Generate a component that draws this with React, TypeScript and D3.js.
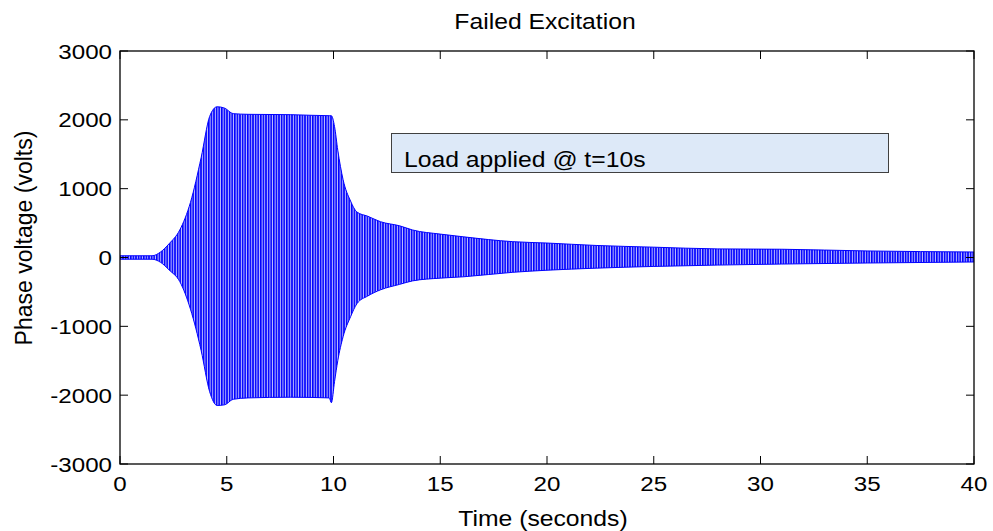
import React from "react";
import * as d3 from "d3";

// Envelope of the phase-voltage trace (volts) at selected times (seconds)
const envTime = [0, 1.5, 1.9, 2.3, 2.8, 3.3, 3.8, 4.2, 4.55, 4.9, 5.3, 6, 8, 9.8, 9.9, 10.05, 10.2, 10.45, 10.8, 11.1, 11.6, 12.2, 13.1, 13.7, 15, 16.1, 18.4, 20, 22.3, 25, 28, 31, 35, 40];
const envUpper = [25, 25, 80, 200, 400, 800, 1450, 2050, 2190, 2170, 2090, 2080, 2075, 2060, 2060, 1900, 1560, 1130, 820, 660, 600, 520, 460, 400, 340, 300, 230, 210, 175, 150, 125, 120, 95, 80];
const envLower = [-25, -25, -70, -180, -350, -750, -1350, -1950, -2150, -2140, -2060, -2040, -2030, -2040, -2110, -1800, -1500, -1150, -860, -670, -560, -470, -390, -340, -300, -280, -215, -185, -155, -130, -110, -95, -80, -65];

const xTicks = [0, 5, 10, 15, 20, 25, 30, 35, 40];
const yTicks = [-3000, -2000, -1000, 0, 1000, 2000, 3000];

const titleText = "Failed Excitation";
const xLabelText = "Time (seconds)";
const yLabelText = "Phase voltage (volts)";
const noteText = "Load applied @ t=10s";

const W = 993;
const H = 531;
const plot = { left: 120, top: 51, right: 974, bottom: 464 };
const FONT = "'Liberation Sans', Arial, Helvetica, sans-serif";
const SX = 1.15;
const TICK = 8;

type Row = { t: number; hi: number; lo: number };

export default function App() {
  const x = d3.scaleLinear().domain([0, 40]).range([plot.left, plot.right]);
  const y = d3.scaleLinear().domain([-3000, 3000]).range([plot.bottom, plot.top]);

  const rows: Row[] = envTime.map((t, i) => ({ t, hi: envUpper[i], lo: envLower[i] }));
  const area = d3
    .area<Row>()
    .x((d) => x(d.t))
    .y0((d) => y(d.lo))
    .y1((d) => y(d.hi))
    .curve(d3.curveMonotoneX);
  const upperLine = d3
    .line<Row>()
    .x((d) => x(d.t))
    .y((d) => y(d.hi))
    .curve(d3.curveMonotoneX);
  const lowerLine = d3
    .line<Row>()
    .x((d) => x(d.t))
    .y((d) => y(d.lo))
    .curve(d3.curveMonotoneX);

  const label = (
    txt: string,
    tx: number,
    ty: number,
    anchor: "start" | "middle" | "end",
    size = 21
  ) => (
    <text
      transform={`translate(${tx},${ty}) scale(${SX},1)`}
      textAnchor={anchor}
      fontFamily={FONT}
      fontSize={size}
      fill="#000"
    >
      {txt}
    </text>
  );

  return (
    <svg
      width={W}
      height={H}
      style={{ position: "absolute", left: 0, top: 0, background: "#fff" }}
    >
      <defs>
        <pattern id="wave" patternUnits="userSpaceOnUse" width={2.6} height={8}>
          <rect width={2.6} height={8} fill="#c4c4ff" />
          <rect width={1.6} height={8} fill="#0000ff" />
        </pattern>
        <clipPath id="plotClip">
          <rect x={plot.left} y={plot.top} width={plot.right - plot.left} height={plot.bottom - plot.top} />
        </clipPath>
      </defs>

      <rect x={0} y={0} width={W} height={H} fill="#fff" />

      {/* voltage trace */}
      <g clipPath="url(#plotClip)">
        <path d={area(rows) ?? ""} fill="url(#wave)" />
        <path d={upperLine(rows) ?? ""} fill="none" stroke="#0000ff" strokeWidth={1} />
        <path d={lowerLine(rows) ?? ""} fill="none" stroke="#0000ff" strokeWidth={1} />
      </g>

      {/* axes box */}
      <rect
        x={plot.left}
        y={plot.top}
        width={plot.right - plot.left}
        height={plot.bottom - plot.top}
        fill="none"
        stroke="#000"
        strokeWidth={1.3}
      />

      {/* x ticks (bottom and top, inward) */}
      {xTicks.map((v) => (
        <g key={`xt${v}`}>
          <line x1={x(v)} x2={x(v)} y1={plot.bottom} y2={plot.bottom - TICK} stroke="#000" strokeWidth={1} />
          <line x1={x(v)} x2={x(v)} y1={plot.top} y2={plot.top + TICK} stroke="#000" strokeWidth={1} />
          {label(String(v), x(v), 491, "middle")}
        </g>
      ))}

      {/* y ticks (left and right, inward) */}
      {yTicks.map((v) => (
        <g key={`yt${v}`}>
          <line x1={plot.left} x2={plot.left + TICK} y1={y(v)} y2={y(v)} stroke="#000" strokeWidth={1} />
          <line x1={plot.right} x2={plot.right - TICK} y1={y(v)} y2={y(v)} stroke="#000" strokeWidth={1} />
          {label(String(v), 112, y(v) + 7.5, "end")}
        </g>
      ))}

      {/* annotation */}
      <rect x={391.5} y={133.5} width={497} height={39} fill="#dde9f8" stroke="#404040" strokeWidth={1} />
      {label(noteText, 404, 167, "start", 21.5)}

      {/* title and axis labels */}
      {label(titleText, 545, 29, "middle", 21.5)}
      {label(xLabelText, 543, 526, "middle", 21.5)}
      <text
        transform={`translate(32,${238}) rotate(-90)`}
        textAnchor="middle"
        fontFamily={FONT}
        fontSize={23}
        fill="#000"
      >
        {yLabelText}
      </text>
    </svg>
  );
}
